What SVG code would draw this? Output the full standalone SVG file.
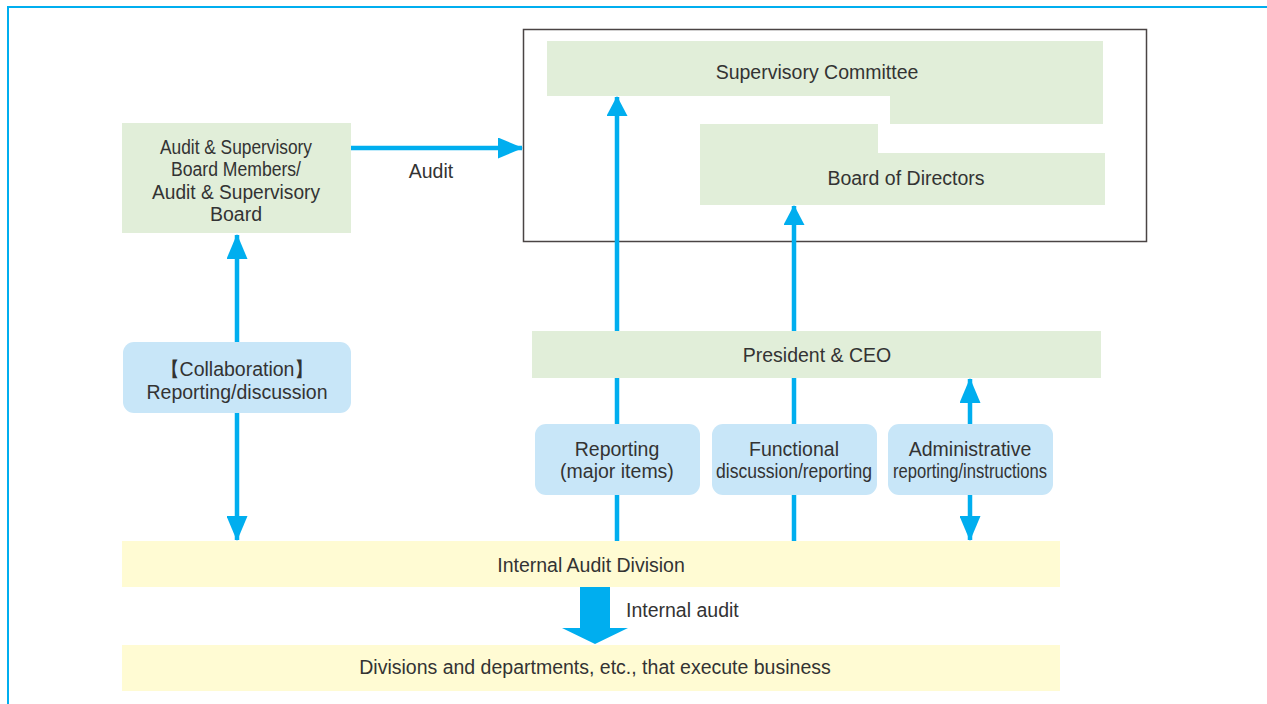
<svg xmlns="http://www.w3.org/2000/svg" width="1267" height="704" viewBox="0 0 1267 704">
<defs>
<style>
.g{fill:#e1eed9}
.b{fill:#c8e6f8}
.y{fill:#fffbd3}
.t{font-family:"Liberation Sans",Arial,sans-serif;font-size:19.5px;fill:#333;text-anchor:middle}
.c{stroke:#00aeef;stroke-width:4.5;fill:none}
</style>
<marker id="ah" viewBox="0 0 25 21" refX="24" refY="10.5" markerWidth="25" markerHeight="21" markerUnits="userSpaceOnUse" orient="auto-start-reverse">
<path d="M0,0 L25,10.5 L0,21 Z" fill="#00aeef"/>
</marker>
<marker id="as" viewBox="0 0 20 21" refX="19" refY="10.5" markerWidth="20" markerHeight="21" markerUnits="userSpaceOnUse" orient="auto-start-reverse">
<path d="M0,0 L20,10.5 L0,21 Z" fill="#00aeef"/>
</marker>
</defs>
<rect width="1267" height="704" fill="#fff"/>
<path d="M8,704 V7 H1267" fill="none" stroke="#00aeef" stroke-width="2"/>
<g id="frame"><rect x="523.5" y="29.5" width="623" height="212" fill="none" stroke="#4a4444" stroke-width="1.5"/></g>
<g id="connectors">
<line class="c" x1="351" y1="148" x2="522" y2="148" marker-end="url(#ah)"/>
<line class="c" x1="617" y1="541" x2="617" y2="97" marker-end="url(#as)"/>
<line class="c" x1="794" y1="541" x2="794" y2="206" marker-end="url(#as)"/>
<line class="c" x1="970" y1="379" x2="970" y2="540" marker-start="url(#ah)" marker-end="url(#ah)"/>
<line class="c" x1="237" y1="235" x2="237" y2="540" marker-start="url(#ah)" marker-end="url(#ah)"/>
<path d="M580,587 H610 V628 H628 L595,644 L562,628 H580 Z" fill="#00aeef"/>
<text class="t" x="431" y="178">Audit</text>
<text class="t" x="626" y="617" style="text-anchor:start">Internal audit</text>
</g>
<g id="audit-board">
<rect class="g" x="122" y="123" width="229" height="110"/>
<text class="t" x="236" y="154" textLength="152" lengthAdjust="spacingAndGlyphs">Audit &amp; Supervisory</text>
<text class="t" x="236" y="176" textLength="130" lengthAdjust="spacingAndGlyphs">Board Members/</text>
<text class="t" x="236" y="199" textLength="168" lengthAdjust="spacingAndGlyphs">Audit &amp; Supervisory</text>
<text class="t" x="236" y="221">Board</text>
</g>
<g id="supervisory-committee">
<path class="g" d="M547,41 H1103 V124 H890 V96 H547 Z"/>
<text class="t" x="817" y="79">Supervisory Committee</text>
</g>
<g id="board-of-directors">
<path class="g" d="M700,124 H878 V153 H1105 V205 H700 Z"/>
<text class="t" x="906" y="185">Board of Directors</text>
</g>
<g id="president">
<rect class="g" x="532" y="331" width="569" height="47"/>
<text class="t" x="817" y="362">President &amp; CEO</text>
</g>
<g id="collab">
<rect class="b" x="123" y="342" width="228" height="71" rx="11"/>
<text class="t" x="237" y="376">【Collaboration】</text>
<text class="t" x="237" y="399">Reporting/discussion</text>
</g>
<g id="label-reporting">
<rect class="b" x="535" y="424" width="165" height="71" rx="11"/>
<text class="t" x="617" y="456">Reporting</text>
<text class="t" x="617" y="478">(major items)</text>
</g>
<g id="label-functional">
<rect class="b" x="712" y="424" width="165" height="71" rx="11"/>
<text class="t" x="794" y="456">Functional</text>
<text class="t" x="794" y="478" textLength="156" lengthAdjust="spacingAndGlyphs">discussion/reporting</text>
</g>
<g id="label-administrative">
<rect class="b" x="888" y="424" width="165" height="71" rx="11"/>
<text class="t" x="970" y="456">Administrative</text>
<text class="t" x="970" y="478" textLength="154" lengthAdjust="spacingAndGlyphs">reporting/instructions</text>
</g>
<g id="internal-audit">
<rect class="y" x="122" y="541" width="938" height="46"/>
<text class="t" x="591" y="572">Internal Audit Division</text>
</g>
<g id="divisions">
<rect class="y" x="122" y="645" width="938" height="46"/>
<text class="t" x="595" y="674">Divisions and departments, etc., that execute business</text>
</g>
</svg>
